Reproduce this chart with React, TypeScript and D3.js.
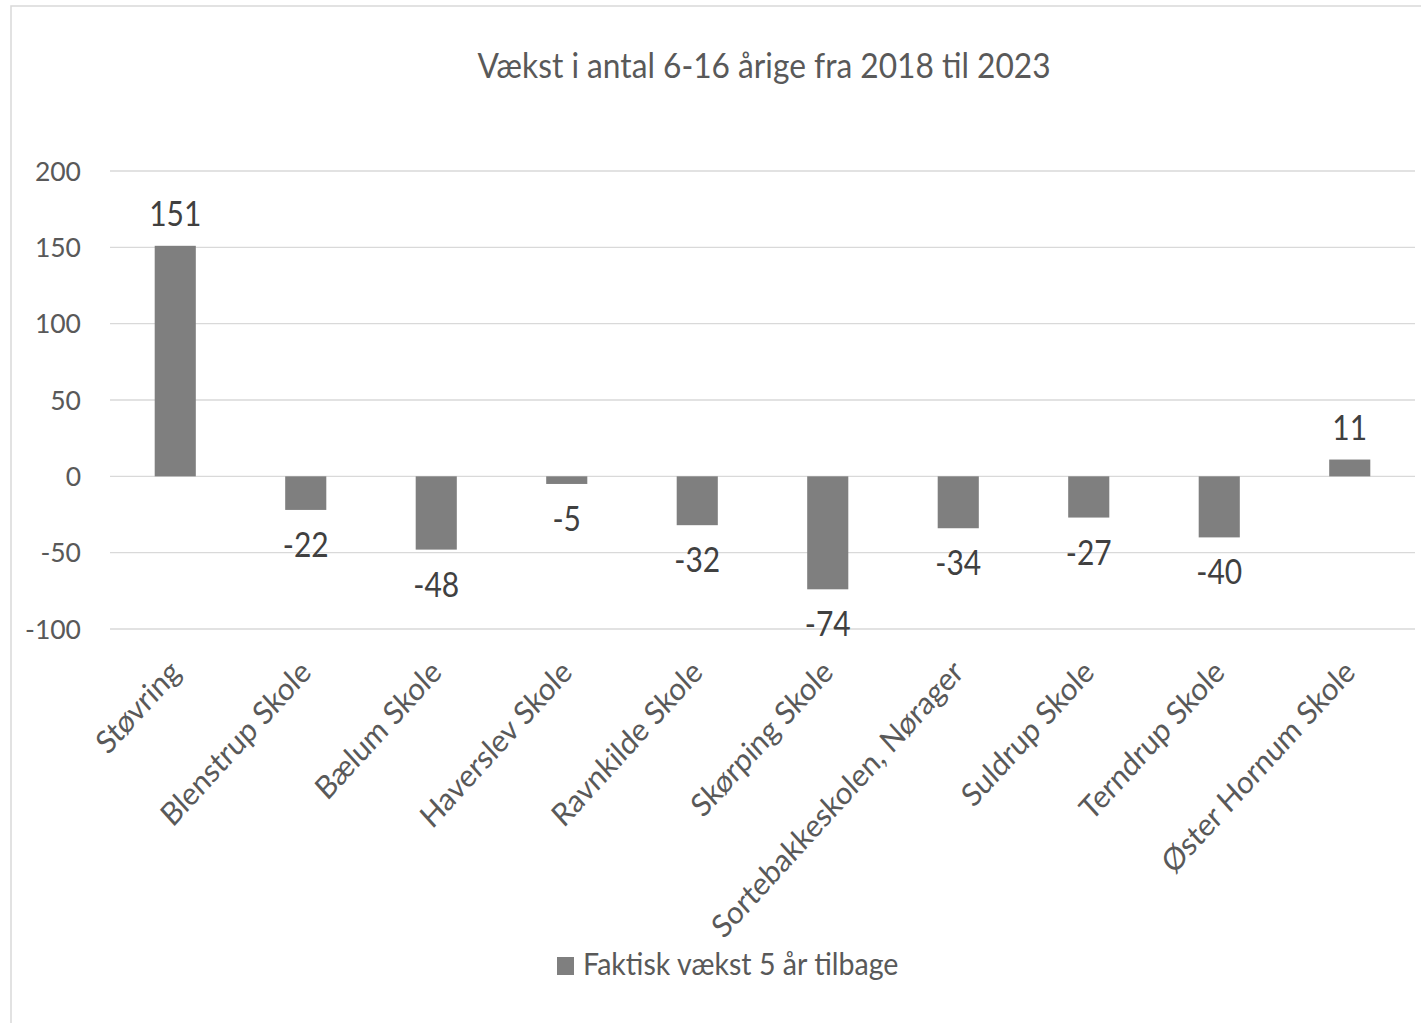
import React from "react";
import * as d3 from "d3";

const title = "Vækst i antal 6-16 årige fra 2018 til 2023";
const categories = [
  "Støvring",
  "Blenstrup Skole",
  "Bælum Skole",
  "Haverslev Skole",
  "Ravnkilde Skole",
  "Skørping Skole",
  "Sortebakkeskolen, Nørager",
  "Suldrup Skole",
  "Terndrup Skole",
  "Øster Hornum Skole",
];
const values = [151, -22, -48, -5, -32, -74, -34, -27, -40, 11];
const yTicks = [-100, -50, 0, 50, 100, 150, 200];
const seriesName = "Faktisk vækst 5 år tilbage";

const W = 1421;
const H = 1023;
const FONT = "Lato, 'Open Sans', sans-serif";

export default function App() {
  const x = d3.scaleBand<string>().domain(categories).range([110, 1415]).paddingInner(0).paddingOuter(0);
  const y = d3.scaleLinear().domain([-100, 200]).range([629, 171]);
  const barW = x.bandwidth() * 0.315;

  return (
    <svg
      width={W}
      height={H}
      style={{ position: "absolute", left: 0, top: 0, background: "#fff" }}
      fontFamily={FONT}
    >
      <rect x={0} y={0} width={W} height={H} fill="#fff" />
      <rect x={11} y={6} width={W + 20} height={H + 20} fill="none" stroke="#d9d9d9" strokeWidth={1.5} />
      <text transform="translate(764,78) scale(1,1.08)" textAnchor="middle" fontSize={31.7} fill="#595959">
        {title}
      </text>
      {yTicks.map((t) => (
        <g key={t}>
          <line x1={110} x2={1415} y1={y(t)} y2={y(t)} stroke="#d9d9d9" strokeWidth={1.3} />
          <text x={81} y={y(t)} dy="0.36em" textAnchor="end" fontSize={26.5} fill="#595959">
            {t}
          </text>
        </g>
      ))}
      {categories.map((c, i) => {
        const v = values[i];
        const cx = (x(c) as number) + x.bandwidth() / 2;
        const top = y(Math.max(0, v));
        const bot = y(Math.min(0, v));
        const ly = v >= 0 ? top - 20 : bot + 47;
        return (
          <g key={c}>
            <rect x={cx - barW / 2} y={top} width={barW} height={bot - top} fill="#7f7f7f" />
            <text
              transform={`translate(${cx},${ly}) scale(1,1.15)`}
              textAnchor="middle"
              fontSize={30}
              fill="#404040"
            >
              {v}
            </text>
            <text
              transform={`translate(${cx + 7},${674}) scale(1,1.1) rotate(-45)`}
              textAnchor="end"
              fontSize={29}
              fill="#595959"
            >
              {c}
            </text>
          </g>
        );
      })}
      <rect x={557} y={957} width={17} height={18} fill="#7f7f7f" />
      <text transform="translate(583,975) scale(1,1.08)" fontSize={28.6} fill="#595959">
        {seriesName}
      </text>
    </svg>
  );
}
